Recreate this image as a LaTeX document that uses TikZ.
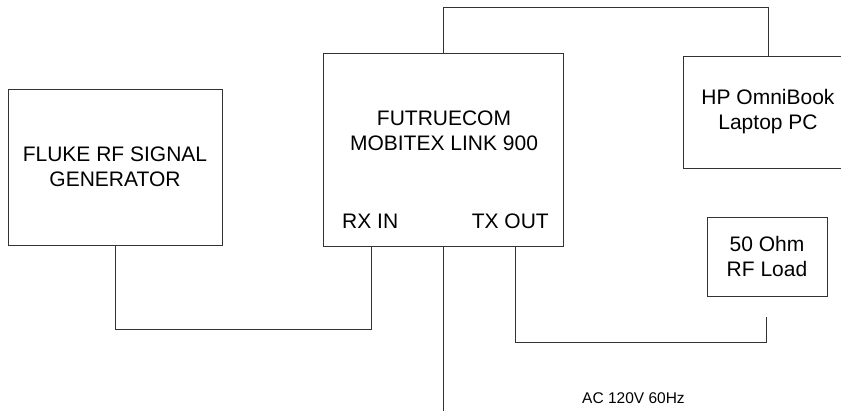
\documentclass[tikz,border=0pt]{standalone}
\usepackage{fontspec}
\setmainfont{Liberation Sans}
\usepackage{xcolor}
\definecolor{wiregray}{HTML}{333333}

\begin{document}
\begin{tikzpicture}[
  x=1pt, y=-1pt,
  unit/.style={
    rectangle, draw=wiregray, line width=0.8pt,
    inner sep=0pt, align=center,
    font=\fontsize{21}{25}\selectfont
  },
  wire/.style={draw=wiregray, line width=0.8pt},
  lbl/.style={inner sep=0pt, font=\fontsize{21}{25}\selectfont},
  note/.style={inner sep=0pt, font=\fontsize{15.5}{18}\selectfont},
]
  \useasboundingbox (0,0) rectangle (841,413);
  \clip (0,0) rectangle (841,413);

  \node[unit, minimum width=214pt, minimum height=156pt] (fluke) at (115,167)
    {FLUKE RF SIGNAL\\GENERATOR};
  \node[unit, minimum width=240pt, minimum height=193pt] (mobitex) at (443,149.5) {};
  \node[lbl, align=center] (mobitexname) at (444,131) {FUTRUECOM\\MOBITEX LINK 900};
  \node[lbl, anchor=base west] (rxin) at (342,228) {RX IN};
  \node[lbl, anchor=base east] (txout) at (549,228) {TX OUT};
  \node[unit, minimum width=170pt, minimum height=112pt] (laptop) at (768,112)
    {HP OmniBook\\Laptop PC};
  \node[unit, minimum width=120pt, minimum height=79pt] (load) at (767,256.5)
    {50 Ohm\\RF Load};
  \node[note, anchor=base west] (mains) at (582,403) {AC 120V 60Hz};

  % ports and bends
  \coordinate (rxport) at (371,246);
  \coordinate (txport) at (515,246);
  \coordinate (rxbend) at (371,329);
  \coordinate (topbend) at (768,7);
  \coordinate (txbend) at (766,342);
  \coordinate (loadend) at (766,317);
  \coordinate (plug) at (443,411);

  \draw[wire] (fluke.south) |- (rxbend) -- (rxport);
  \draw[wire] (mobitex.north) |- (topbend) -- (laptop.north);
  \draw[wire] (txport) |- (txbend) -- (loadend);
  \draw[wire] (mobitex.south) -- (plug);
\end{tikzpicture}
\end{document}
